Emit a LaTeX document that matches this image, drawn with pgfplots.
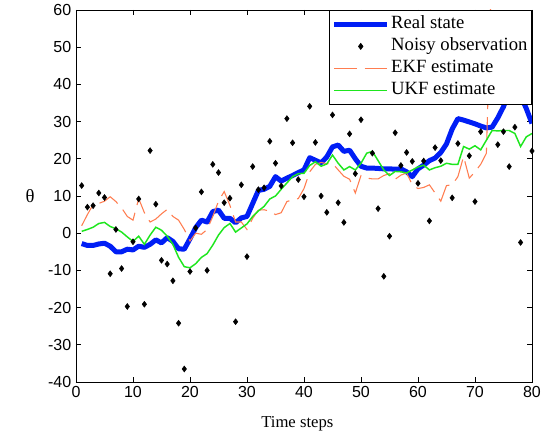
\documentclass[border=0pt]{standalone}
\usepackage{fontspec}
\setmainfont{Liberation Serif}
\newfontfamily\sansf{Liberation Sans}
\usepackage{pgfplots}
\pgfplotsset{compat=1.18}
\usepackage{pgfplotstable}

\definecolor{realc}{RGB}{0,30,245}
\definecolor{ekfc}{RGB}{255,125,80}
\definecolor{ukfc}{RGB}{30,230,30}

\pgfplotstableread{
t real ekf ukf
1 -2.8 2.0 0.5
2 -3.3 5.0 1.0
3 -3.3 7.7 1.6
4 -2.9 8.0 2.6
5 -2.7 8.6 2.9
6 -3.5 9.8 1.8
7 -5.0 8.5 1.2
8 -5.0 6.8 0.3
9 -4.3 4.5 -1.0
10 -4.5 3.5 -2.2
11 -3.5 9.3 -0.8
12 -3.8 5.5 -3.0
13 -3.0 3.0 -0.5
14 -1.8 3.8 1.6
15 -2.6 5.2 0.8
16 -1.2 6.4 -0.8
17 -2.2 4.5 -3.0
18 -4.2 3.5 -6.5
19 -4.3 1.0 -9.0
20 -1.5 -2.1 -9.3
21 1.5 0.0 -8.2
22 3.5 -0.3 -6.5
23 3.0 1.0 -5.5
24 5.8 4.5 -3.2
25 6.2 8.6 -0.5
26 4.0 11.2 1.5
27 4.0 7.5 2.6
28 2.8 3.0 0.3
29 4.1 3.0 1.4
30 4.5 1.0 2.5
31 8.0 4.0 4.5
32 11.5 6.2 6.0
33 11.8 6.3 7.2
34 12.6 5.9 9.2
35 15.2 5.0 10.0
36 14.0 5.5 11.8
37 14.8 8.5 13.5
38 15.5 9.0 15.2
39 16.3 9.3 16.0
40 17.0 12.0 16.1
41 20.3 16.5 18.2
42 19.6 18.5 19.2
43 18.9 19.0 18.0
44 20.5 18.7 18.6
45 23.2 18.8 21.0
46 23.7 17.0 18.8
47 22.0 15.3 17.0
48 22.3 14.5 17.9
49 20.0 10.8 17.0
50 18.0 15.5 18.8
51 17.5 14.8 21.5
52 17.5 14.6 22.0
53 17.4 14.6 19.5
54 17.3 15.5 17.0
55 17.3 16.0 15.5
56 17.2 14.5 16.6
57 17.3 15.6 16.5
58 16.5 16.2 16.2
59 15.2 13.0 17.0
60 17.3 12.0 17.8
61 18.3 12.3 18.3
62 19.5 13.0 17.0
63 20.2 10.8 17.6
64 21.7 8.6 18.0
65 24.0 12.8 18.8
66 28.0 13.0 18.5
67 30.8 15.2 18.5
68 30.4 20.6 23.3
69 29.9 14.8 22.6
70 29.4 16.5 23.5
71 28.8 18.5 22.4
72 28.3 21.5 25.0
73 28.5 75 27.6
74 31.0 75 27.5
75 34.0 75 27.6
76 38.0 75 27.6
77 40.0 75 26.8
78 37.0 75 23.3
79 33.5 75 25.9
80 29.5 75 26.8
}\stateTable

\pgfplotstableread{
t obs
1 12.8
2 7
3 7.4
4 10.8
5 9.6
6 -10.9
7 1
8 -9.5
9 -19.7
10 -2.3
11 9.2
12 -19.1
13 22.2
14 7.8
15 -7.3
16 -8.3
17 -12.8
18 -24.2
19 -36.5
20 -10.3
21 1.4
22 11.1
23 -10
24 18.5
25 16.3
26 8.2
27 9.4
28 -23.8
29 13
30 -6.3
31 17.9
32 11.7
33 12.2
34 24.7
35 18.8
36 12.7
37 30.8
38 24.3
39 14.4
40 9.8
41 34.1
42 24.4
43 10
44 5.6
45 31.8
46 8.2
47 2.9
48 26.7
49 16
50 30.5
52 21.5
53 6.6
54 -11.6
55 -0.8
56 27
57 18.2
58 21.7
59 19.3
60 13.4
61 19.4
62 3.3
63 23
64 19.5
66 9.5
67 24.1
69 20.8
70 8.5
71 27.3
74 23.8
75 27.3
76 17.9
77 28.5
78 -2.5
80 22.1
}\obsTable

\begin{document}
\begin{tikzpicture}
\begin{axis}[
  at={(0,0)}, anchor=south west, scale only axis,
  width=342pt, height=279pt,
  xmin=0, xmax=80, ymin=-40, ymax=60,
  xtick={0,10,...,80}, ytick={-40,-30,...,60},
  tick style={black, line width=0.5pt}, major tick length=4pt,
  axis line style={black, line width=0.6pt},
  ticklabel style={font=\sansf\fontsize{12}{14}\selectfont},
  /pgf/number format/assume math mode=true,
  xlabel={Time steps},
  every axis x label/.style={at={(axis description cs:0.5,0)}, anchor=center, yshift=-31.5pt, xshift=-5pt, font=\fontsize{12.5}{14}\selectfont},
  ylabel={θ},
  every axis y label/.style={at={(axis description cs:0,0.5)}, anchor=center, xshift=-34.5pt, font=\fontsize{14}{16}\selectfont},
  legend style={at={(1,1)}, anchor=north east, draw=black, line width=0.6pt, fill=white,
    font=\fontsize{14}{16}\selectfont, inner xsep=2pt, inner ysep=2.5pt, row sep=0.5pt,
    nodes={inner sep=1pt, text height=10pt, text depth=4pt}},
  legend cell align=left,
  legend image code/.code={\draw[mark repeat=2,mark phase=2] plot coordinates {(0pt,0pt) (20pt,0pt) (40pt,0pt)};},
  clip=true,
]
\addplot[realc, line width=3.75pt, line join=round] table[x=t, y=real] {\stateTable};
\addlegendentry{Real state}
\addplot[only marks, mark=diamond*, mark size=2.2pt, black] table[x=t, y=obs] {\obsTable};
\addlegendentry{Noisy observation}
\addplot[ekfc, line width=0.8pt, dash pattern=on 17pt off 6pt] table[x=t, y=ekf] {\stateTable};
\addlegendentry{EKF estimate}
\addplot[ukfc, line width=1.1pt] table[x=t, y=ukf] {\stateTable};
\addlegendentry{UKF estimate}
\end{axis}
\pgfresetboundingbox
\path (-57pt,-42pt) rectangle (350.25pt,286.5pt);
\end{tikzpicture}
\end{document}
